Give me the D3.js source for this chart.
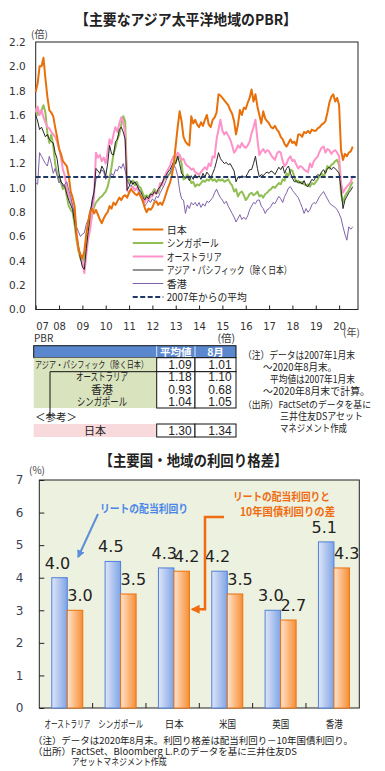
<!DOCTYPE html>
<html lang="ja">
<head>
<meta charset="utf-8">
<title>PBR / 利回り格差</title>
<style>
  body { margin: 0; background: #fff; }
  svg text { font-family: "Noto Sans CJK JP", "DejaVu Sans", sans-serif; fill: #222; }
  svg text.num { font-family: "DejaVu Sans", sans-serif; }
  svg text.val { font-family: "Liberation Sans", sans-serif; }
</style>
</head>
<body>
<svg width="385" height="771"></svg>
<script src="https://cdn.jsdelivr.net/npm/d3@7"></script>
<script>

// ---- data: PBR, monthly, 2007/01 - 2020/08 ----
var seriesNames = ["日本", "シンガポール", "オーストラリア", "アジア・パシフィック（除く日本）", "香港"];

var japan = [
  1.79, 1.86, 2.00, 2.00, 2.07, 1.90, 1.75, 1.64, 1.62, 1.59, 1.50, 1.42,
  1.32, 1.28, 1.22, 1.20, 1.18, 1.10, 0.97, 0.92, 0.85, 0.62, 0.50, 0.45,
  0.42, 0.48, 0.62, 0.72, 0.80, 0.83, 0.79, 0.82, 0.78, 0.74, 0.71, 0.75,
  0.78, 0.80, 0.85, 0.83, 0.88, 0.86, 0.89, 0.92, 0.90, 0.93, 0.94, 0.92,
  0.96, 0.99, 0.97, 0.95, 0.94, 0.96, 0.93, 0.90, 0.84, 0.80, 0.83, 0.82,
  0.84, 0.88, 0.89, 0.86, 0.88, 0.86, 0.90, 0.95, 1.00, 1.04, 1.10, 1.20,
  1.35, 1.50, 1.63, 1.55, 1.42, 1.38, 1.36, 1.35, 1.59, 1.53, 1.56, 1.52,
  1.50, 1.54, 1.51, 1.56, 1.60, 1.52, 1.50, 1.56, 1.58, 1.62, 1.77, 1.76,
  1.74, 1.72, 1.70, 1.68, 1.64, 1.61, 1.55, 1.44, 1.52, 1.64, 1.60, 1.66,
  1.65, 1.70, 1.74, 1.81, 1.71, 1.77, 1.67, 1.60, 1.53, 1.63, 1.57, 1.55,
  1.53, 1.50, 1.49, 1.51, 1.48, 1.46, 1.42, 1.40, 1.36, 1.34, 1.37, 1.40,
  1.37, 1.38, 1.35, 1.44, 1.44, 1.42, 1.46, 1.45, 1.47, 1.45, 1.48, 1.47,
  1.47, 1.49, 1.50, 1.52, 1.53, 1.55, 1.62, 1.70, 1.75, 1.77, 1.71, 1.74,
  1.68, 1.31, 1.23, 1.28, 1.26, 1.29, 1.30, 1.34
];

var singapore = [
  1.66, 1.60, 1.62, 1.64, 1.68, 1.62, 1.45, 1.37, 1.44, 1.35, 1.20, 1.12,
  1.07, 1.04, 0.99, 1.02, 0.93, 0.85, 0.82, 0.80, 0.70, 0.57, 0.48, 0.42,
  0.39, 0.42, 0.55, 0.63, 0.72, 0.78, 0.84, 0.88, 0.90, 0.92, 0.93, 0.95,
  0.97, 1.01, 1.08, 1.17, 1.28, 1.33, 1.40, 1.44, 1.52, 1.59, 1.55, 1.05,
  1.07, 1.04, 1.06, 1.02, 1.05, 1.01, 1.00, 0.96, 0.92, 0.94, 0.92, 0.95,
  0.96, 0.99, 0.97, 0.96, 1.01, 1.04, 1.07, 1.08, 1.10, 1.12, 1.14, 1.18,
  1.22, 1.25, 1.27, 1.20, 1.07, 1.08, 1.11, 1.09, 1.04, 1.05, 1.01, 1.03,
  1.02, 1.04, 1.06, 1.05, 1.07, 1.06, 1.08, 1.06, 1.07, 1.05, 1.07, 1.06,
  1.07, 1.05, 1.06, 1.07, 1.04, 1.02, 0.97, 0.99, 0.93, 0.96, 0.97, 0.94,
  0.90, 0.92, 0.95, 0.96, 0.94, 0.95, 0.97, 0.93, 0.94, 0.92, 0.95, 0.96,
  0.98, 0.99, 1.01, 1.00, 1.02, 1.04, 1.03, 1.07, 1.06, 1.12, 1.10, 1.15,
  1.14, 1.09, 1.05, 1.06, 1.04, 1.05, 1.03, 1.02, 1.03, 1.01, 1.04, 1.03,
  1.05, 1.07, 1.10, 1.12, 1.09, 1.13, 1.18, 1.16, 1.19, 1.20, 1.22, 1.23,
  1.19, 0.95, 0.88, 0.93, 0.96, 0.98, 1.02, 1.05
];

var australia = [
  1.62, 1.67, 1.60, 1.64, 1.58, 1.54, 1.50, 1.49, 1.46, 1.44, 1.42, 1.38,
  1.33, 1.25, 1.15, 1.10, 0.99, 0.94, 0.90, 0.84, 0.80, 0.62, 0.50, 0.45,
  0.40, 0.30, 0.45, 0.58, 0.66, 0.78, 0.93, 1.29, 1.25, 1.27, 1.22, 1.25,
  1.20, 1.30, 1.40, 1.36, 1.44, 1.50, 1.46, 1.53, 1.58, 1.55, 1.45, 0.98,
  0.96, 0.99, 1.01, 0.98, 1.00, 0.97, 0.93, 0.90, 0.88, 0.92, 0.90, 0.93,
  0.93, 0.97, 0.95, 0.98, 1.04, 1.02, 1.08, 1.12, 1.15, 1.18, 1.23, 1.26,
  1.25, 1.29, 1.27, 1.23, 1.24, 1.20, 1.18, 1.17, 1.15, 1.16, 1.13, 1.12,
  1.11, 1.13, 1.15, 1.17, 1.15, 1.20, 1.18, 1.26, 1.25, 1.40, 1.48, 1.56,
  1.47, 1.44, 1.46, 1.43, 1.40, 1.35, 1.29, 1.31, 1.35, 1.33, 1.37, 1.34,
  1.33, 1.35, 1.38, 1.45, 1.50, 1.56, 1.40, 1.27, 1.30, 1.32, 1.29, 1.31,
  1.30, 1.27, 1.25, 1.23, 1.28, 1.30, 1.29, 1.22, 1.18, 1.20, 1.24, 1.26,
  1.22, 1.23, 1.19, 1.16, 1.18, 1.17, 1.15, 1.14, 1.13, 1.20, 1.17, 1.22,
  1.24, 1.26, 1.30, 1.33, 1.34, 1.29, 1.32, 1.31, 1.28, 1.30, 1.31, 1.29,
  1.26, 1.04, 0.96, 0.99, 1.01, 1.03, 1.05, 1.10
];

var asiaPac = [
  1.60, 1.55, 1.48, 1.50, 1.46, 1.42, 1.44, 1.40, 1.38, 1.37, 1.29, 1.24,
  1.12, 1.05, 1.03, 1.01, 0.95, 0.90, 0.86, 0.82, 0.72, 0.60, 0.52, 0.42,
  0.35, 0.33, 0.50, 0.64, 0.78, 0.90, 0.97, 1.16, 1.14, 1.12, 1.18, 1.15,
  1.10, 1.20, 1.35, 1.28, 1.27, 1.38, 1.40, 1.48, 1.50, 1.46, 1.40, 0.98,
  1.01, 1.06, 1.03, 1.05, 1.02, 0.99, 0.97, 0.93, 0.90, 0.93, 0.91, 0.95,
  0.94, 0.97, 0.95, 0.99, 1.01, 1.04, 1.08, 1.10, 1.13, 1.15, 1.18, 1.22,
  1.20, 1.26, 1.20, 1.12, 1.10, 1.08, 1.09, 1.06, 1.10, 1.07, 1.11, 1.08,
  1.10, 1.07, 1.12, 1.09, 1.13, 1.11, 1.08, 1.12, 1.16, 1.22, 1.29, 1.24,
  1.22, 1.20, 1.21, 1.19, 1.20, 1.17, 1.14, 1.05, 1.09, 1.08, 1.10, 1.09,
  1.09, 1.12, 1.15, 1.15, 1.20, 1.26, 1.16, 1.09, 1.11, 1.10, 1.12, 1.13,
  1.12, 1.14, 1.13, 1.11, 1.14, 1.17, 1.15, 1.18, 1.12, 1.16, 1.18, 1.12,
  1.08, 1.05, 1.06, 1.04, 1.05, 1.03, 1.06, 1.02, 1.01, 1.04, 1.07, 1.06,
  1.09, 1.11, 1.10, 1.13, 1.15, 1.12, 1.16, 1.17, 1.15, 1.17, 1.16, 1.14,
  1.12, 0.99, 0.83, 0.90, 0.93, 0.96, 0.98, 1.01
];

var hongKong = [
  1.04, 1.03, 1.29, 1.26, 1.23, 1.20, 1.18, 1.26, 1.20, 1.12, 1.16, 1.10,
  1.04, 1.06, 1.01, 1.03, 1.05, 0.98, 0.93, 0.85, 0.78, 0.68, 0.64, 0.60,
  0.62, 0.63, 0.70, 0.74, 0.82, 0.86, 0.96, 1.07, 1.09, 1.12, 1.15, 1.13,
  1.07, 1.10, 1.08, 1.12, 1.10, 1.15, 1.14, 1.18, 1.16, 1.20, 1.14, 1.07,
  1.03, 1.01, 1.04, 1.05, 1.03, 0.99, 0.93, 0.88, 0.85, 0.87, 0.90, 0.88,
  0.91, 0.89, 0.93, 0.92, 0.96, 0.99, 1.02, 1.06, 1.10, 1.12, 1.16, 1.19,
  1.16, 1.10, 0.98, 0.91, 0.90, 0.79, 0.86, 0.83, 0.88, 0.86, 0.88, 0.85,
  0.88, 0.84, 0.87, 0.85, 0.89, 0.88, 0.90, 0.92, 0.96, 0.99, 0.95, 0.92,
  0.90, 0.87, 0.89, 0.85, 0.82, 0.79, 0.76, 0.72, 0.75, 0.78, 0.74, 0.76,
  0.74, 0.77, 0.82, 0.85, 0.88, 0.87, 0.90, 0.90, 0.85, 0.83, 0.79, 0.82,
  0.83, 0.85, 0.88, 0.87, 0.90, 0.93, 0.91, 0.88, 0.93, 0.96, 1.00, 1.01,
  0.98, 0.96, 0.94, 0.92, 0.88, 0.84, 0.79, 0.83, 0.80, 0.82, 0.86, 0.88,
  0.87, 0.90, 0.93, 0.95, 0.97, 0.94, 0.91, 0.88, 0.86, 0.85, 0.84, 0.82,
  0.79, 0.75, 0.68, 0.62, 0.57, 0.68, 0.66, 0.68
];

var yearTicks = [2007, 2008, 2009, 2010, 2011, 2012, 2013, 2014, 2015, 2016, 2017, 2018, 2019, 2020];
var yearLabels = ["07", "08", "09", "10", "11", "12", "13", "14", "15", "16", "17", "18", "19", "20"];
var pbrTicks = [0, 0.2, 0.4, 0.6, 0.8, 1.0, 1.2, 1.4, 1.6, 1.8, 2.0, 2.2];
var avgLabel = "2007年からの平均";

// ---- data: PBR table ----
var tableNames = ["アジア・パシフィック（除く日本）", "オーストラリア", "香港", "シンガポール", "日本"];
var tableAvg = [1.09, 1.18, 0.93, 1.04, 1.30];
var tableAug = [1.01, 1.10, 0.68, 1.05, 1.34];

// ---- data: yield chart ----
var yieldCats = ["オーストラリア", "シンガポール", "日本", "米国", "英国", "香港"];
var reitYield = [4.0, 4.5, 4.3, 4.2, 3.0, 5.1];
var spreadYield = [3.0, 3.5, 4.2, 3.5, 2.7, 4.3];
var yieldTicks = [0, 1, 2, 3, 4, 5, 6, 7];

var notesTop = [
  "（注）データは2007年1月末",
  "～2020年8月末。",
  "平均値は2007年1月末",
  "～2020年8月末で計算。",
  "（出所）FactSetのデータを基に",
  "三井住友DSアセット",
  "マネジメント作成"
];
var notesBottom = [
  "（注）データは2020年8月末。利回り格差は配当利回り－10年国債利回り。",
  "（出所）FactSet、Bloomberg L.P.のデータを基に三井住友DS",
  "アセットマネジメント作成"
];

var svg = d3.select("svg");

// squeeze a text to the width it has in the original
function fit(sel, w) {
  sel.each(function() {
    if (this.getComputedTextLength() > w)
      d3.select(this).attr("textLength", w).attr("lengthAdjust", "spacingAndGlyphs");
  });
  return sel;
}

function addText(x, y, s, size, anchor, w) {
  var t = svg.append("text")
      .attr("x", x)
      .attr("y", y)
      .attr("font-size", size)
      .attr("text-anchor", anchor || "start")
      .text(s);
  if (w) fit(t, w);
  return t;
}

// =========== top chart: PBR lines ===========
var L = 35.7, R = 358, T = 42, B = 309.5;

var x = d3.scaleLinear().domain([2007, 2020.81]).range([L, R]),
    y = d3.scaleLinear().domain([0, 2.2]).range([B, T]);

addText(186, 25, "【主要なアジア太平洋地域のPBR】", 15, "middle", 222).attr("font-weight", "bold");
addText(31, 37.5, "(倍)", 10).style("fill", "#444");

svg.append("rect")
    .attr("x", L).attr("y", T)
    .attr("width", R - L).attr("height", B - T)
    .attr("fill", "#fff")
    .attr("stroke", "#222");

var yAxis = svg.append("g")
    .attr("transform", "translate(" + L + ",0)")
    .call(d3.axisLeft(y).tickValues(pbrTicks).tickFormat(d3.format(".1f")).tickSize(0).tickPadding(10));
yAxis.select(".domain").remove();
yAxis.selectAll("text").attr("class", "num").attr("font-size", 10.5).style("fill", "#333");

var xAxis = svg.append("g")
    .attr("transform", "translate(0," + B + ")")
    .call(d3.axisBottom(x).tickValues(yearTicks)
      .tickFormat(function(d, i) { return yearLabels[i]; })
      .tickSize(-4).tickPadding(13));
xAxis.select(".domain").remove();
xAxis.selectAll("line").attr("stroke", "#222");
xAxis.selectAll("text").attr("class", "num").attr("font-size", 10).style("fill", "#333");
xAxis.select(".tick text").attr("text-anchor", "start");

addText(343, 336, "(年)", 10).style("fill", "#444");

var pbrSeries = [japan, singapore, australia, asiaPac, hongKong];
var lineColors = ["#e8700a", "#92bf55", "#ff92c8", "#262626", "#8062ac"],
    lineWidths = [2, 2, 2, 1, 1];

var line = d3.line()
    .x(function(d, i) { return x(2007 + i / 12); })
    .y(function(d) { return y(d); });

[1, 2, 4, 3, 0].forEach(function(k) {
  svg.append("path")
      .datum(pbrSeries[k])
      .attr("d", line)
      .attr("fill", "none")
      .attr("stroke", lineColors[k])
      .attr("stroke-width", lineWidths[k])
      .attr("stroke-linejoin", "round");
});

// average since 2007 (Asia Pacific ex Japan)
svg.append("line")
    .attr("x1", L).attr("x2", R)
    .attr("y1", y(tableAvg[0])).attr("y2", y(tableAvg[0]))
    .attr("stroke", "#1f3864")
    .attr("stroke-width", 2)
    .attr("stroke-dasharray", "5,2.5");

// legend
var legendNames = seriesNames.concat([avgLabel]),
    legendWidths = [20, 52, 55, 125, 20, 80];

legendNames.forEach(function(name, i) {
  var ly = 229.5 + i * 13.5;
  svg.append("line")
      .attr("x1", 132.7).attr("x2", 163.3)
      .attr("y1", ly).attr("y2", ly)
      .attr("stroke", i < 5 ? lineColors[i] : "#1f3864")
      .attr("stroke-width", i < 5 ? lineWidths[i] : 2)
      .attr("stroke-dasharray", i < 5 ? null : "5,2.5");
  addText(166.7, ly + 4, name, 10.5, "start", legendWidths[i]);
});

// =========== PBR table ===========
var c0 = 33.7, c1 = 156.7, c2 = 195, c3 = 236;

addText(34, 342, "PBR", 10).style("fill", "#333");
addText(235, 342, "(倍)", 10.5, "end").style("fill", "#333");

svg.append("rect")
    .attr("x", c0).attr("y", 345.7).attr("width", c3 - c0).attr("height", 12)
    .attr("fill", "#5b87cf").attr("stroke", "#111");
[c1, c2].forEach(function(cx) {
  svg.append("line").attr("x1", cx).attr("x2", cx).attr("y1", 346.2).attr("y2", 357.2)
      .attr("stroke", "#dfe8f7").attr("stroke-width", 1);
});
addText((c1 + c2) / 2, 355.5, "平均値", 10.5, "middle", 33).attr("font-weight", "bold").style("fill", "#fff");
addText((c2 + c3) / 2, 355.5, "8月", 10.5, "middle", 22).attr("font-weight", "bold").style("fill", "#fff");

svg.append("rect")
    .attr("x", c0).attr("y", 357.7).attr("width", c1 - c0).attr("height", 50.3)
    .attr("fill", "#d9e4be");
svg.append("rect")
    .attr("x", c0).attr("y", 424).attr("width", c1 - c0).attr("height", 13)
    .attr("fill", "#f8d9dc");

// white value cells: first row, grouped rows, Japan
[[357.7, 14], [371.7, 36.3], [424, 13]].forEach(function(r) {
  [[c1, c2], [c2, c3]].forEach(function(c) {
    svg.append("rect")
        .attr("x", c[0]).attr("y", r[0]).attr("width", c[1] - c[0]).attr("height", r[1])
        .attr("fill", "#fff").attr("stroke", "#111");
  });
});
svg.append("path")
    .attr("d", "M" + c1 + ",371.7H50V418")
    .attr("fill", "none").attr("stroke", "#111");

var rowBase = [368.8, 381.3, 394.2, 406.3, 434.6],
    nameX = [35, 102, 102, 102, 95],
    nameW = [113, 52, 22, 50, 22];

tableNames.forEach(function(name, i) {
  addText(nameX[i], rowBase[i] - (i === 0 ? 0.5 : 0), name, i === 0 ? 9.5 : 11, i === 0 ? "start" : "middle", nameW[i]);
  addText(c2 - 3.3, rowBase[i], tableAvg[i].toFixed(2), 12, "end").attr("class", "val");
  addText(c3 - 4.3, rowBase[i], tableAug[i].toFixed(2), 12, "end").attr("class", "val");
});
addText(35, 421, "＜参考＞", 10.5, "start", 43);

var noteX = [243, 263, 270, 263, 243, 280, 280],
    noteW = [112, 74, 85, 107, 128, 83, 67],
    noteSize = [10, 10, 10, 10, 9.3, 10, 10];
notesTop.forEach(function(s, i) {
  addText(noteX[i], 358.5 + i * 12.3, s, noteSize[i], "start", noteW[i]);
});

// =========== bottom chart: yield spread bars ===========
var L2 = 39.3, R2 = 359.3, T2 = 480, B2 = 708;

var x2 = d3.scaleBand().domain(yieldCats).range([L2, R2]),
    inner = d3.scaleBand().domain([0, 1]).range([0, 31]),
    y2 = d3.scaleLinear().domain([0, 7]).range([B2, T2]);
var off = (x2.bandwidth() - 31) / 2 + 1.3;

addText(193.5, 466, "【主要国・地域の利回り格差】", 15, "middle", 188).attr("font-weight", "bold");
addText(29, 473.5, "(%)", 10).style("fill", "#444");

var defs = svg.append("defs");
function grad(id, a, b) {
  var g = defs.append("linearGradient").attr("id", id).attr("x1", "0").attr("x2", "1").attr("y1", "0").attr("y2", "0");
  g.append("stop").attr("offset", "0%").attr("stop-color", a);
  g.append("stop").attr("offset", "100%").attr("stop-color", b);
}
grad("gBlue", "#dfe6f8", "#7fa4e6");
grad("gOrange", "#fee3cc", "#f78e35");

function marker(id, color, size) {
  defs.append("marker")
      .attr("id", id)
      .attr("viewBox", "0 0 10 10")
      .attr("refX", 8).attr("refY", 5)
      .attr("markerWidth", size).attr("markerHeight", size)
      .attr("markerUnits", "userSpaceOnUse")
      .attr("orient", "auto")
    .append("path")
      .attr("d", "M0,0L10,5L0,10z")
      .attr("fill", color);
}
marker("aBlue", "#5b8fd9", 8);
marker("aOrange", "#ef6c12", 9);

svg.append("rect")
    .attr("x", L2).attr("y", T2).attr("width", R2 - L2).attr("height", B2 - T2)
    .attr("fill", "#edf1df").attr("stroke", "#222");

var yAxis2 = svg.append("g")
    .attr("transform", "translate(" + L2 + ",0)")
    .call(d3.axisLeft(y2).tickValues(yieldTicks).tickFormat(d3.format("d")).tickSize(-5).tickPadding(16));
yAxis2.select(".domain").remove();
yAxis2.selectAll("line").attr("stroke", "#222");
yAxis2.selectAll("text").attr("class", "num").attr("font-size", 12).style("fill", "#3a3f55");

yieldCats.slice(1).forEach(function(c) {
  svg.append("line")
      .attr("x1", x2(c)).attr("x2", x2(c))
      .attr("y1", B2).attr("y2", B2 - 5)
      .attr("stroke", "#222");
});

var barSets = [reitYield, spreadYield],
    barFill = ["url(#gBlue)", "url(#gOrange)"],
    barStroke = ["#4f80d8", "#e8730f"],
    labelShift = [-2, 5];

barSets.forEach(function(vals, j) {
  svg.selectAll(".bar" + j)
    .data(vals)
    .enter().append("rect")
      .attr("class", "bar" + j)
      .attr("x", function(d, i) { return x2(yieldCats[i]) + off + inner(j); })
      .attr("y", function(d) { return y2(d); })
      .attr("width", inner.bandwidth())
      .attr("height", function(d) { return B2 - y2(d); })
      .attr("fill", barFill[j])
      .attr("stroke", barStroke[j]);

  svg.selectAll(".lab" + j)
    .data(vals)
    .enter().append("text")
      .attr("class", "num lab" + j)
      .attr("x", function(d, i) { return x2(yieldCats[i]) + off + inner(j) + inner.bandwidth() / 2 + labelShift[j]; })
      .attr("y", function(d) { return y2(d) - 9; })
      .attr("text-anchor", "middle")
      .attr("font-size", 16)
      .text(function(d) { return d.toFixed(1); });
});

var catW = [46, 45, 19, 17, 17, 17];
yieldCats.forEach(function(c, i) {
  addText(x2(c) + x2.bandwidth() / 2 + 1.5, 727.5, c, 10, "middle", catW[i]);
});

// annotation: REIT dividend yield
addText(100, 512.5, "リートの配当利回り", 11, "start", 88).attr("font-weight", "bold").style("fill", "#4a86e8");
var tipX = x2(yieldCats[0]) + off + inner(0) + inner.bandwidth() + 11,
    tipY = y2(reitYield[0]) - 21;
svg.append("line")
    .attr("x1", 98).attr("y1", 514)
    .attr("x2", tipX).attr("y2", tipY)
    .attr("stroke", "#5b8fd9").attr("stroke-width", 2)
    .attr("marker-end", "url(#aBlue)");

// annotation: spread over 10y government bond
addText(233, 500.5, "リートの配当利回りと", 11, "start", 97).attr("font-weight", "bold").style("fill", "#ef6c12");
addText(240, 515.5, "10年国債利回りの差", 11, "start", 95).attr("font-weight", "bold").style("fill", "#ef6c12");
var vx = x2(yieldCats[3]) + 5.7,
    ox = x2(yieldCats[2]) + off + inner(1) + inner.bandwidth() + 3;
svg.append("path")
    .attr("d", "M224,517H" + vx + "V" + (y2(3.0) - 1) + "H" + ox)
    .attr("fill", "none")
    .attr("stroke", "#ef6c12").attr("stroke-width", 2.5)
    .attr("marker-end", "url(#aOrange)");

var noteX2 = [33, 33, 71.7],
    noteW2 = [320, 272, 95];
notesBottom.forEach(function(s, i) {
  addText(noteX2[i], 744 + i * 10.6, s, 9.5, "start", noteW2[i]);
});

</script>
</body>
</html>
